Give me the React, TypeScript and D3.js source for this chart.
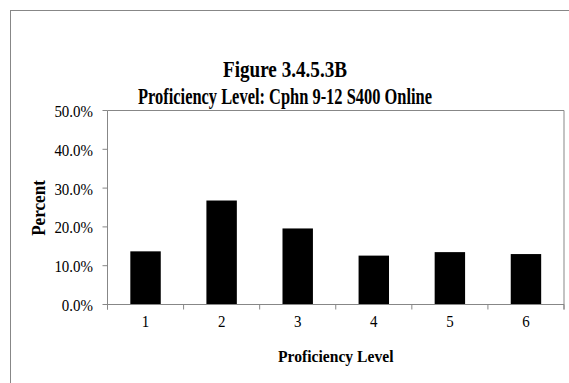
import React from "react";
import * as d3 from "d3";

const categories = ["1", "2", "3", "4", "5", "6"];
const percents = [13.7, 26.8, 19.6, 12.6, 13.5, 13.0];
const yTicks = [0, 10, 20, 30, 40, 50];
const titleLines = ["Figure 3.4.5.3B", "Proficiency Level: Cphn 9-12 S400 Online"];
const xTitle = "Proficiency Level";
const yTitle = "Percent";

const W = 569;
const H = 383;
const plot = { left: 107.5, right: 564, top: 110.5, bottom: 304.5 };
const axisColor = "#878787";
const font = "'Liberation Serif', 'Times New Roman', serif";

function NText(props: {
  x: number;
  y: number;
  sx?: number;
  size: number;
  bold?: boolean;
  anchor?: string;
  rotate?: number;
  children: React.ReactNode;
}) {
  const { x, y, sx = 0.88, size, bold, anchor = "middle", rotate = 0, children } = props;
  return (
    <text
      transform={`translate(${x},${y}) rotate(${rotate}) scale(${sx},1)`}
      textAnchor={anchor}
      fontSize={size}
      fontWeight={bold ? "bold" : "normal"}
      fill="#000"
    >
      {children}
    </text>
  );
}

export default function App() {
  const bounds = d3.scaleBand<string>().domain(categories).range([plot.left, plot.right]);
  const x = d3
    .scaleBand<string>()
    .domain(categories)
    .range([plot.left, plot.right])
    .paddingInner(0.6)
    .paddingOuter(0.3);
  const y = d3.scaleLinear().domain([0, 50]).range([plot.bottom, plot.top]);
  const fmt = d3.format(".1f");

  const boundaryXs = categories.map((c) => bounds(c) as number).concat([plot.right]);

  return (
    <svg
      width={W}
      height={H}
      style={{ position: "absolute", left: 0, top: 0, background: "#fff" }}
      fontFamily={font}
    >
      <rect x={0} y={0} width={W} height={H} fill="#fff" />
      <rect x={10.5} y={10.5} width={W + 40} height={H + 20} fill="none" stroke={axisColor} strokeWidth={1} />

      <text x={285} y={77} textAnchor="middle" fontSize={23} fontWeight="bold" textLength={124} lengthAdjust="spacingAndGlyphs">
        {titleLines[0]}
      </text>
      <text x={285} y={104} textAnchor="middle" fontSize={23} fontWeight="bold" textLength={294} lengthAdjust="spacingAndGlyphs">
        {titleLines[1]}
      </text>

      {/* plot frame */}
      <line x1={plot.left} x2={plot.right} y1={plot.top} y2={plot.top} stroke={axisColor} />
      <line x1={plot.right} x2={plot.right} y1={plot.top} y2={plot.bottom + 5} stroke={axisColor} />

      {/* bars */}
      {categories.map((c, i) => (
        <rect
          key={c}
          x={x(c)}
          y={y(percents[i])}
          width={x.bandwidth()}
          height={plot.bottom - y(percents[i])}
          fill="#000"
        />
      ))}

      {/* y axis */}
      <line x1={plot.left} x2={plot.left} y1={plot.top} y2={plot.bottom + 5} stroke={axisColor} />
      {yTicks.map((t) => (
        <g key={t}>
          <line x1={plot.left - 5} x2={plot.left} y1={y(t)} y2={y(t)} stroke={axisColor} />
          <NText x={93} y={y(t) + 6.5} size={17} anchor="end">
            {fmt(t)}%
          </NText>
        </g>
      ))}
      <NText x={45} y={208} size={18} bold rotate={-90} sx={0.95}>
        {yTitle}
      </NText>

      {/* x axis */}
      <line x1={plot.left} x2={plot.right} y1={plot.bottom} y2={plot.bottom} stroke={axisColor} />
      {boundaryXs.map((bx, i) => (
        <line key={i} x1={bx} x2={bx} y1={plot.bottom} y2={plot.bottom + 5} stroke={axisColor} />
      ))}
      {categories.map((c) => (
        <NText key={c} x={(bounds(c) as number) + bounds.bandwidth() / 2} y={327} size={17}>
          {c}
        </NText>
      ))}
      <NText x={(plot.left + plot.right) / 2} y={362} size={17} bold sx={0.92}>
        {xTitle}
      </NText>
    </svg>
  );
}
